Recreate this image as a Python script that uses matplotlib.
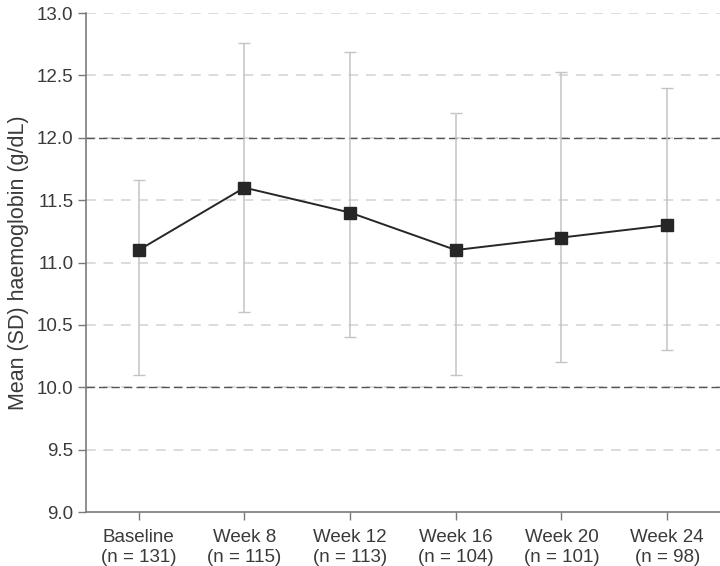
import matplotlib
matplotlib.use("Agg")
import matplotlib.pyplot as plt

# ─── Dane ────────────────────────────────────────────────
visits = ["Baseline\n(n = 131)", "Week 8\n(n = 115)", "Week 12\n(n = 113)",
          "Week 16\n(n = 104)", "Week 20\n(n = 101)", "Week 24\n(n = 98)"]
mean_hb = [11.1, 11.6, 11.4, 11.1, 11.2, 11.3]
lower_hb = [10.1, 10.6, 10.4, 10.1, 10.2, 10.3]
upper_hb = [11.66, 12.76, 12.69, 12.2, 12.53, 12.4]
ref_lines = [10.0, 12.0]
y_ticks = [9.0, 9.5, 10.0, 10.5, 11.0, 11.5, 12.0, 12.5, 13.0]

plt.rcParams["font.family"] = ["Liberation Sans", "DejaVu Sans"]
TXT = "#3a3a3a"

fig = plt.figure(figsize=(7.2, 5.66), dpi=100)
ax = fig.add_axes([0.1194, 0.0954, 0.8806, 0.8816])

x = list(range(len(visits)))
err_lo = [m - l for m, l in zip(mean_hb, lower_hb)]
err_hi = [u - m for m, u in zip(mean_hb, upper_hb)]

# siatka
for yv in y_ticks[1:]:
    ax.axhline(yv, color="#dcdcdc", lw=1.4, ls=(0, (5, 4)), zorder=0)
for yv in ref_lines:
    ax.axhline(yv, color="#555555", lw=1.0, ls=(0, (6, 3)), zorder=1)

ax.errorbar(x, mean_hb, yerr=[err_lo, err_hi], fmt="none",
            ecolor="#c4c4c4", elinewidth=1.1, capsize=4, capthick=1.0, zorder=2)
ax.plot(x, mean_hb, color="#262626", lw=1.4, marker="s", markersize=8.5,
        markerfacecolor="#262626", markeredgecolor="#262626", zorder=3)

ax.set_xlim(-0.5, 5.5)
ax.set_ylim(9.0, 13.0)
ax.set_yticks(y_ticks)
ax.set_yticklabels([f"{v:.1f}" for v in y_ticks])
ax.set_xticks(x)
ax.set_xticklabels(visits, linespacing=1.25)
ax.set_ylabel("Mean (SD) haemoglobin (g/dL)", fontsize=15.5, color=TXT, labelpad=6)

for s in ["top", "right"]:
    ax.spines[s].set_visible(False)
for s in ["left", "bottom"]:
    ax.spines[s].set_color("#7a7a7a")
    ax.spines[s].set_linewidth(1.2)
ax.tick_params(axis="both", colors="#7a7a7a", labelcolor=TXT, labelsize=13.5,
               length=6, width=1.0)
ax.tick_params(axis="x", pad=6)
ax.tick_params(axis="y", pad=3)

fig.savefig("out.png", dpi=100)
